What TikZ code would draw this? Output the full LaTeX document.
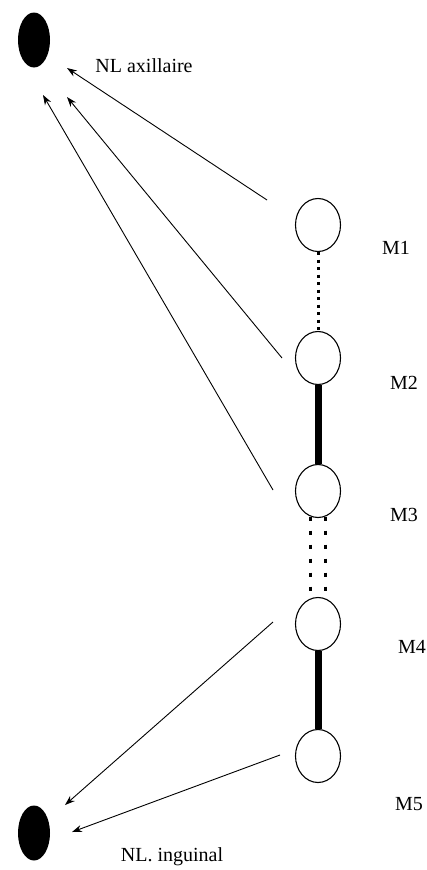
\documentclass[tikz,border=0pt]{standalone}
\usepackage{fontspec}
\setmainfont{Liberation Serif}
\usetikzlibrary{shapes.geometric,arrows.meta,calc}
\begin{document}
\begin{tikzpicture}[x=1pt,y=-1pt,
  node/.style={draw=black,line width=1.1pt,ellipse,minimum width=45pt,minimum height=53pt,inner sep=0pt},
  lymph/.style={fill=black,ellipse,minimum width=32pt,minimum height=55pt,inner sep=0pt},
  lab/.style={font=\fontsize{20}{24}\selectfont,inner sep=0pt},
  flow/.style={line width=0.9pt,-{Stealth[length=10pt,width=7pt]}},
  dots/.style={line width=3pt,dash pattern=on 3pt off 4.5pt},
  ddots/.style={line width=3pt,dash pattern=on 4pt off 10pt},
  thick line/.style={line width=7pt}]
\useasboundingbox (0,0) rectangle (427,870);
% lymph nodes
\node[lymph] (ax) at (34,40) {};
\node[lymph] (ing) at (34,833) {};
\node[lab] (axl) at (144,66) {NL axillaire};
\node[lab] (ingl) at (172,857) {NL. inguinal};
% vessel nodes
\node[node] (m1) at (318,225) {};
\node[node] (m2) at (318,358) {};
\node[node] (m3) at (318,491) {};
\node[node] (m4) at (318,624) {};
\node[node] (m5) at (318,756) {};
\node[lab] (l1) at (396,248) {M1};
\node[lab] (l2) at (404,383) {M2};
\node[lab] (l3) at (404,515) {M3};
\node[lab] (l4) at (412,647) {M4};
\node[lab] (l5) at (409,804) {M5};
% links between vessels
\draw[dots] (m1.south) -- (m2.north);
\draw[thick line] (m2.south) -- (m3.north);
\draw[ddots] ($(m3.south)+(-7.5,-1.5)$) -- ($(m4.north)+(-7.5,1.5)$);
\draw[ddots] ($(m3.south)+(7.5,-1.5)$) -- ($(m4.north)+(7.5,1.5)$);
\draw[thick line] (m4.south) -- (m5.north);
% arrow end points
\coordinate (t1) at (267,200);
\coordinate (t2) at (282,358);
\coordinate (t3) at (273,490);
\coordinate (t4) at (273,622);
\coordinate (t5) at (280,755);
\coordinate (a1) at (67,68);
\coordinate (a2) at (67,97);
\coordinate (a3) at (43,95);
\coordinate (a4) at (65,805);
\coordinate (a5) at (72,832);
\draw[flow] (t1) -- (a1);
\draw[flow] (t2) -- (a2);
\draw[flow] (t3) -- (a3);
\draw[flow] (t4) -- (a4);
\draw[flow] (t5) -- (a5);
\end{tikzpicture}
\end{document}
